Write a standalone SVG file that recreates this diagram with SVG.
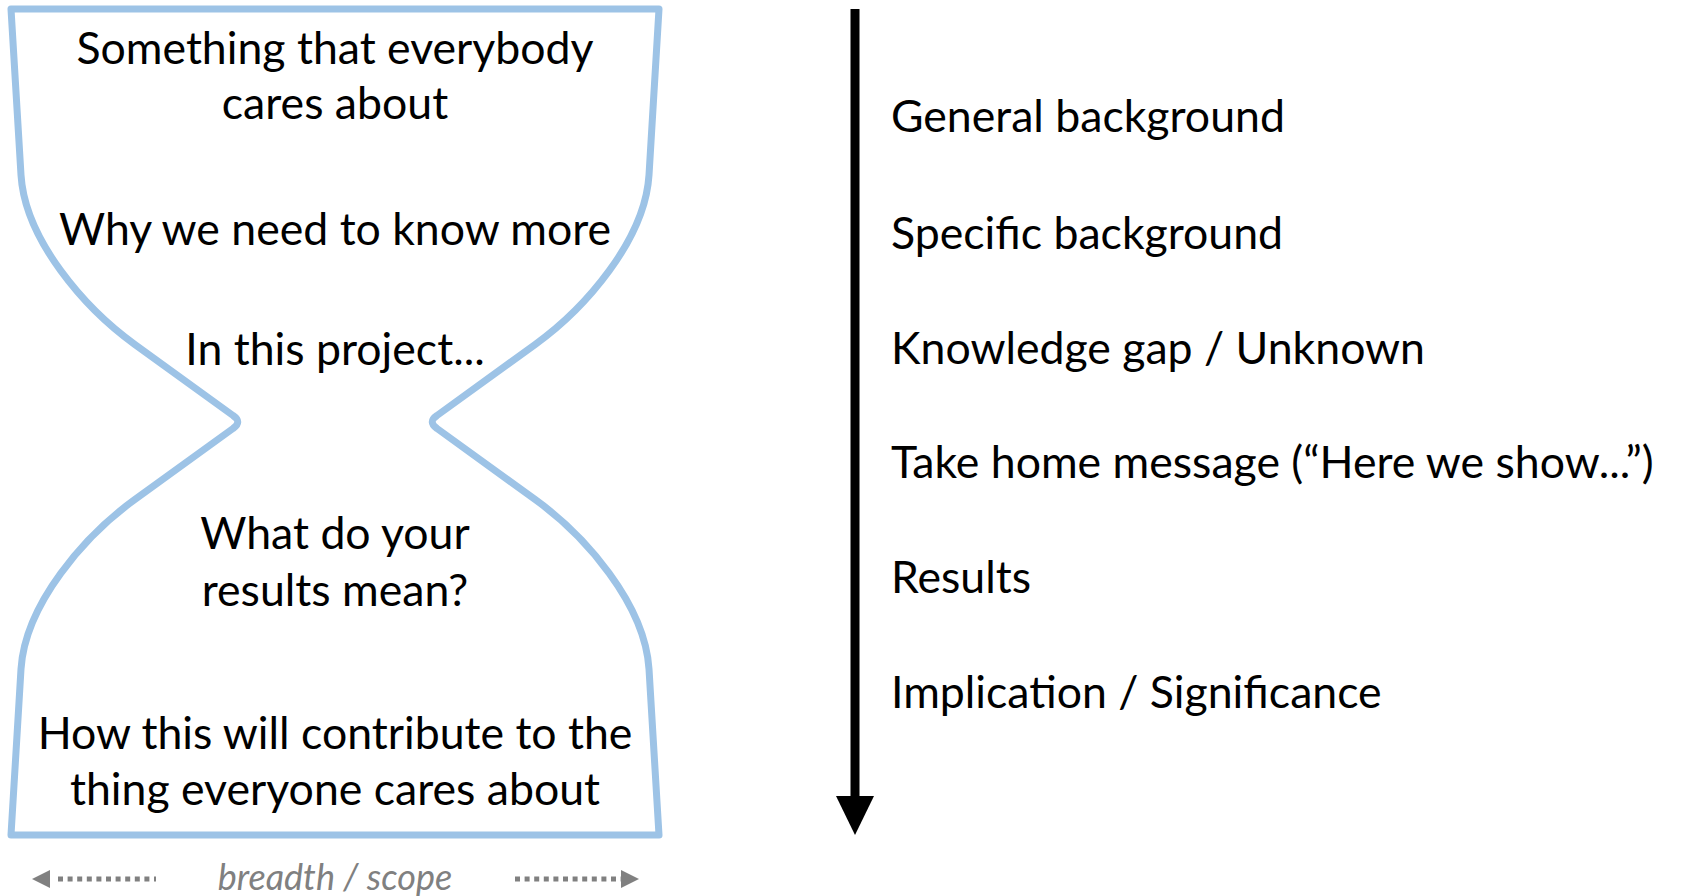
<svg xmlns="http://www.w3.org/2000/svg" width="1682" height="896" viewBox="0 0 1682 896">
<style>
.t{font-family:Lato,"Open Sans","Liberation Sans",sans-serif;font-size:44.6px;fill:#000}
.c{text-anchor:middle}
.s{font-family:Lato,"Open Sans","Liberation Sans",sans-serif;font-size:36px;font-style:italic;fill:#808080;text-anchor:middle}
.hg{fill:#fff;stroke:#9DC3E6;stroke-width:7;stroke-linejoin:round}
.dot{stroke:#808080;stroke-width:5;stroke-dasharray:5 4.6;fill:none}
.ah{fill:#808080}
</style>
<rect width="1682" height="896" fill="#fff"/>
<g id="hourglass">
<path class="hg" d="M11,9 L659,9 L649,175 C645,240 585,308.6 535,344.6 L437,415.5 Q427.5,422 437,428.5 L535,499.4 C585,535.4 645,604 649,669 L659,835 L11,835 L21,669 C25,604 85,535.4 135,499.4 L233,428.5 Q242.5,422 233,415.5 L135,344.6 C85,308.6 25,240 21,175 Z"/>
</g>
<g id="hourglass-text">
<text class="t c" x="335" y="64">Something that everybody</text>
<text class="t c" x="335" y="119">cares about</text>
<text class="t c" x="335" y="245">Why we need to know more</text>
<text class="t c" x="335" y="365">In this project...</text>
<text class="t c" x="335" y="549">What do your</text>
<text class="t c" x="335" y="606">results mean?</text>
<text class="t c" x="335" y="749">How this will contribute to the</text>
<text class="t c" x="335" y="805">thing everyone cares about</text>
</g>
<g id="scope">
<line class="dot" x1="58" y1="879" x2="156" y2="879"/>
<polygon class="ah" points="32,879 50,870 50,888"/>
<line class="dot" x1="515" y1="879" x2="621" y2="879"/>
<polygon class="ah" points="639,879 621,870 621,888"/>
<text class="s" x="335" y="890">breadth / scope</text>
</g>
<g id="connectors">
<line x1="855" y1="9" x2="855" y2="800" stroke="#000" stroke-width="9"/>
<polygon points="836,796 874,796 855,835" fill="#000"/>
</g>
<g id="labels">
<text class="t" x="891" y="132">General background</text>
<text class="t" x="891" y="249">Specific background</text>
<text class="t" x="891" y="364">Knowledge gap / Unknown</text>
<text class="t" x="891" y="478">Take home message (“Here we show...”)</text>
<text class="t" x="891" y="593">Results</text>
<text class="t" x="891" y="708">Implication / Significance</text>
</g>
</svg>
